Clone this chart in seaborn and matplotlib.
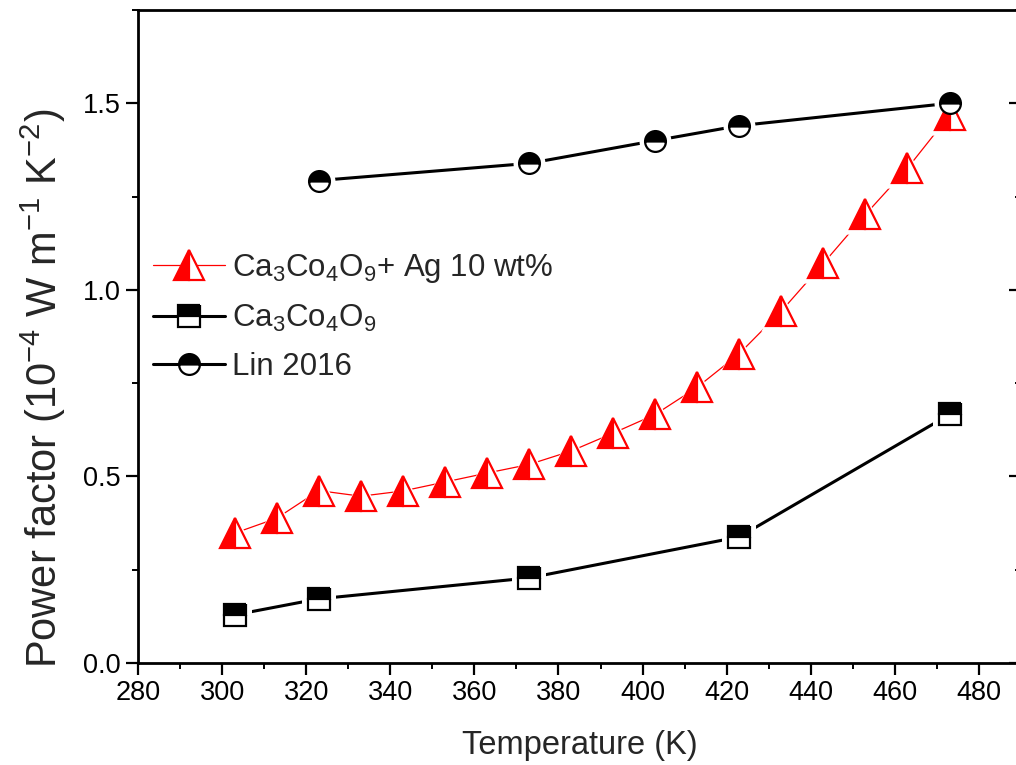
import matplotlib
matplotlib.use("Agg")
import matplotlib.pyplot as plt
from matplotlib.lines import Line2D
from matplotlib.ticker import MultipleLocator
import seaborn as sns
import pandas as pd

# ---- data ----
temps_ag = [303, 313, 323, 333, 343, 353, 363, 373, 383, 393, 403, 413, 423, 433, 443, 453, 463, 473]
pf_ag = [0.348, 0.388, 0.462, 0.447, 0.461, 0.485, 0.509, 0.532, 0.568, 0.616, 0.666, 0.739,
         0.829, 0.943, 1.071, 1.202, 1.326, 1.468]
temps_pure = [303, 323, 373, 423, 473]
pf_pure = [0.129, 0.172, 0.228, 0.338, 0.666]
temps_lin = [323, 373, 403, 423, 473]
pf_lin = [1.293, 1.339, 1.400, 1.440, 1.500]

labels = ["Ca$_3$Co$_4$O$_9$+ Ag 10 wt%", "Ca$_3$Co$_4$O$_9$", "Lin 2016"]
xticks = [280, 300, 320, 340, 360, 380, 400, 420, 440, 460, 480]
yticks = [0.0, 0.5, 1.0, 1.5]

sns.set_style("ticks")
plt.rcParams["font.family"] = ["Liberation Sans", "DejaVu Sans"]
plt.rcParams["mathtext.default"] = "regular"

fig = plt.figure(figsize=(10.16, 7.65), dpi=100)
ax = fig.add_axes([138 / 1016, 102 / 765, (1021 - 138) / 1016, (663 - 10) / 765])

series = [
    dict(x=temps_ag, y=pf_ag, color="red", marker="^", ms=21, fill="left", lw=0.9, mew=1.6),
    dict(x=temps_pure, y=pf_pure, color="black", marker="s", ms=16, fill="top", lw=2.2, mew=1.6),
    dict(x=temps_lin, y=pf_lin, color="black", marker="o", ms=15, fill="top", lw=2.2, mew=1.6),
]

for s in series:
    df = pd.DataFrame({"T": s["x"], "PF": s["y"]})
    # connecting line
    sns.lineplot(data=df, x="T", y="PF", ax=ax, color=s["color"], linewidth=s["lw"],
                 zorder=2, sort=False)
    # white halo for the gap around markers
    sns.scatterplot(data=df, x="T", y="PF", ax=ax, color="white", marker=s["marker"],
                    s=(s["ms"] + 8) ** 2, linewidth=0, zorder=3, legend=False)
    # half-filled markers
    sns.lineplot(data=df, x="T", y="PF", ax=ax, color=s["color"], linestyle="None",
                 marker=s["marker"], markersize=s["ms"], fillstyle=s["fill"],
                 markerfacecolor=s["color"], markerfacecoloralt="white",
                 markeredgecolor=s["color"], markeredgewidth=s["mew"], zorder=4, sort=False)

ax.set_xlim(280, 490)
ax.set_ylim(0, 1.75)
ax.set_xticks(xticks)
ax.set_yticks(yticks)
ax.set_yticklabels([f"{v:.1f}" for v in yticks])
ax.xaxis.set_minor_locator(MultipleLocator(10))
ax.yaxis.set_minor_locator(MultipleLocator(0.25))

for sp in ax.spines.values():
    sp.set_linewidth(2.0)
    sp.set_color("black")

ax.tick_params(axis="both", which="major", length=8.6, width=1.6, labelsize=19.5,
               color="black", labelcolor="black", pad=4)
ax.tick_params(axis="both", which="minor", length=4.5, width=1.4, color="black")
ax.yaxis.set_tick_params(which="both", right=True)
# right ticks point inward
for t in ax.yaxis.get_major_ticks() + ax.yaxis.get_minor_ticks():
    t.tick2line.set_marker(matplotlib.lines.TICKLEFT)

ax.set_xlabel("Temperature (K)", fontsize=23.5, labelpad=17)
ax.set_ylabel(r"Power factor (10$^{-4}$ W m$^{-1}$ K$^{-2}$)", fontsize=30)
ax.yaxis.set_label_coords(-0.079, 0.42)

handles = []
for s in series:
    handles.append(Line2D([0], [0], color=s["color"], linewidth=s["lw"], marker=s["marker"],
                          markersize=s["ms"], fillstyle=s["fill"], markerfacecolor=s["color"],
                          markerfacecoloralt="white", markeredgecolor=s["color"],
                          markeredgewidth=s["mew"]))
ax.legend(handles, labels, loc="upper left", bbox_to_anchor=(0.017, 0.63), frameon=False,
          fontsize=22.5, handlelength=2.3, handletextpad=0.22, labelspacing=0.58,
          borderpad=0, borderaxespad=0)

fig.savefig("out.png", dpi=100)
